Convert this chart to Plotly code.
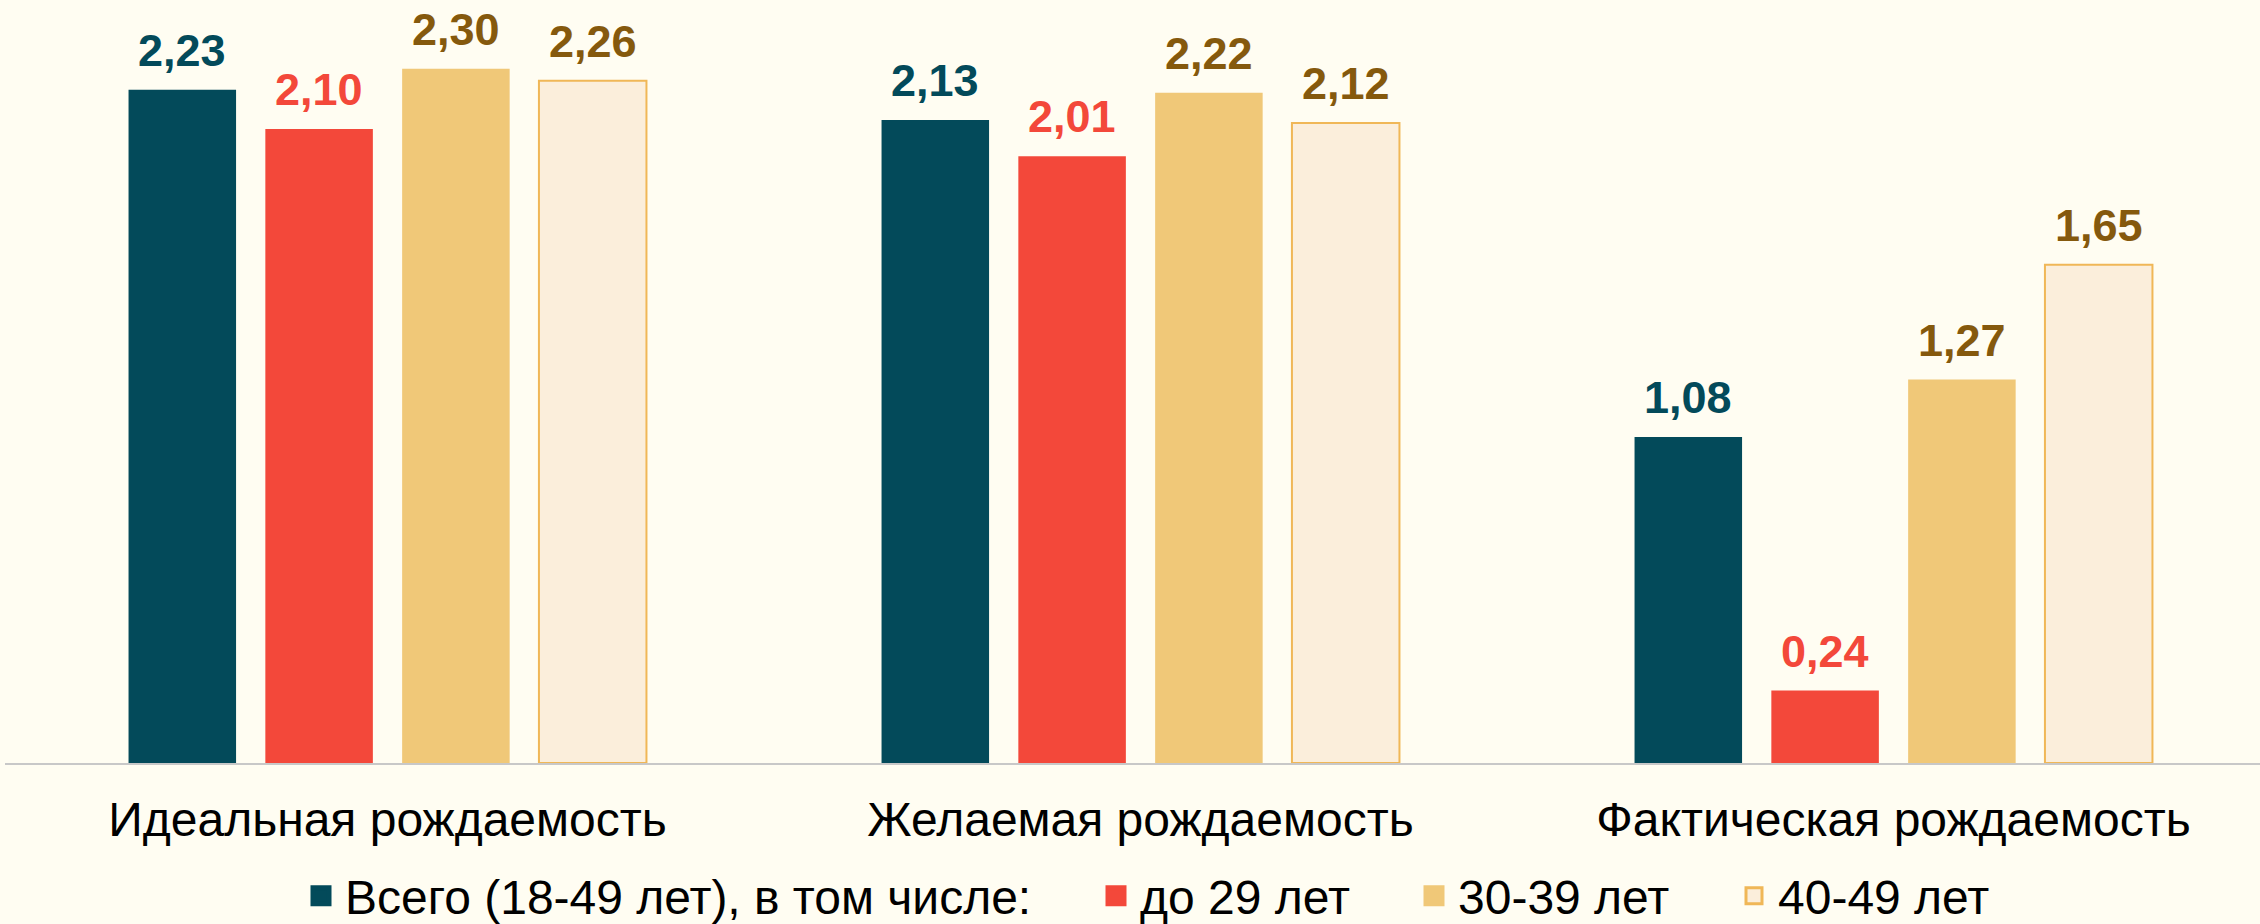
import plotly.graph_objects as go

categories = ["Идеальная рождаемость", "Желаемая рождаемость", "Фактическая рождаемость"]
series_names = ["Всего (18-49 лет), в том числе:", "до 29 лет", "30-39 лет", "40-49 лет"]
total_18_49 = [2.23, 2.13, 1.08]
under_29 = [2.10, 2.01, 0.24]
age_30_39 = [2.30, 2.22, 1.27]
age_40_49 = [2.26, 2.12, 1.65]

series_values = [total_18_49, under_29, age_30_39, age_40_49]
fill_colors = ["#034A5A", "#F3483A", "#F0C878", "#FBEEDB"]
line_colors = ["#034A5A", "#F3483A", "#F0C878", "#F0B757"]
line_widths = [0, 0, 0, 2]
label_colors = ["#034A5A", "#F3483A", "#85590D", "#85590D"]

BG = "#FFFDF2"
W, H = 2260, 924
ML, MR, MT, MB = 5, 0, 23, 161
PX_PER_UNIT = 301.9
CAT_PX = 753.0
FIRST_CENTER_PX = 387.5
PITCH_PX = 136.8
FONT = "Liberation Sans, Arial"

fig = go.Figure()

for i, (name, vals) in enumerate(zip(series_names, series_values)):
    fig.add_trace(go.Bar(
        x=categories, y=vals, name=name, showlegend=False,
        marker=dict(color=fill_colors[i],
                    line=dict(color=line_colors[i], width=line_widths[i])),
        hoverinfo="x+y",
    ))

# legend entries (one legend per entry for exact placement)
legend_left_px = [297, 1092, 1410, 1730]
legend_keys = ["legend", "legend2", "legend3", "legend4"]
for i, name in enumerate(series_names):
    fig.add_trace(go.Scatter(
        x=[None], y=[None], mode="markers", name=name,
        legend=legend_keys[i],
        marker=dict(symbol="square", size=16, color=fill_colors[i],
                    line=dict(color=line_colors[i], width=5 if i < 3 else 3)),
    ))

# value labels
for i, vals in enumerate(series_values):
    for c, v in zip(categories, vals):
        fig.add_annotation(
            x=c, y=v, xref="x", yref="y",
            text=f"{v:.2f}".replace(".", ","),
            showarrow=False, yanchor="bottom", xanchor="center",
            xshift=(i - 1.5) * PITCH_PX, yshift=12,
            font=dict(family=FONT, size=45, color=label_colors[i], weight="bold"),
        )

plot_w = W - ML - MR
plot_h = H - MT - MB
x0 = -(FIRST_CENTER_PX - ML) / CAT_PX
x1 = x0 + plot_w / CAT_PX

legend_font = dict(family=FONT, size=48, color="#000000")
leg_y = (H - MB - 896) / plot_h
layout_legends = {}
for k, lx in zip(legend_keys, legend_left_px):
    layout_legends[k] = dict(
        x=(lx - ML) / plot_w, y=leg_y, xanchor="left", yanchor="middle",
        orientation="h", font=legend_font, bgcolor="rgba(0,0,0,0)",
        itemwidth=38, borderwidth=0,
    )

fig.update_layout(
    width=W, height=H,
    margin=dict(l=ML, r=MR, t=MT, b=MB, pad=0, autoexpand=False),
    paper_bgcolor=BG, plot_bgcolor=BG,
    barmode="group", bargap=0.2733, bargroupgap=0.214,
    font=dict(family=FONT, color="#000000"),
    xaxis=dict(
        range=[x0, x1], showgrid=False, zeroline=False, automargin=False,
        showline=True, linecolor="#C8C8C8", linewidth=2,
        ticks="", tickfont=dict(family=FONT, size=48, color="#000000"),
        ticklabelstandoff=13,
    ),
    yaxis=dict(range=[0, plot_h / PX_PER_UNIT], visible=False, showgrid=False,
               zeroline=False, automargin=False),
    **layout_legends,
)

fig.write_html("out.html", config={"displayModeBar": False},
               post_script="document.body.style.margin='0';")
